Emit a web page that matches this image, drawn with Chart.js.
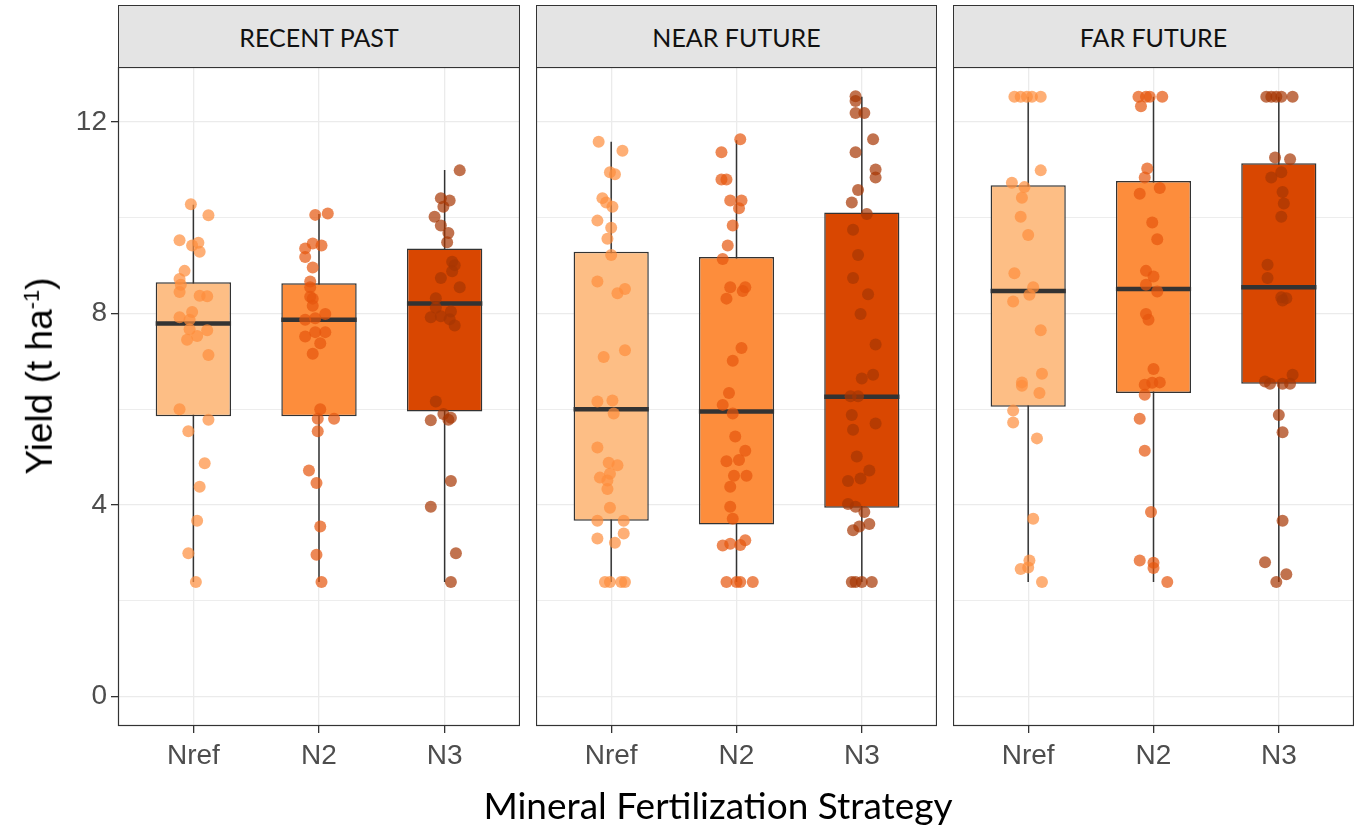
<!DOCTYPE html>
<html>
<head>
<title>Yield by mineral fertilization strategy</title>
<script src="https://cdn.jsdelivr.net/npm/chart.js"></script>
<style>
  body { margin: 0; background: #fff; }
  #fig { position: relative; width: 1360px; height: 830px; overflow: hidden; }
  canvas { position: absolute; top: 67px; }
  .strip { position: absolute; top: 5px; height: 63px; box-sizing: border-box; background: #e4e4e4;
           border: 1px solid #333; font: 25px Lato, sans-serif; color: #111;
           display: flex; align-items: center; justify-content: center; }
  #xtitle { position: absolute; left: 418px; width: 600px; top: 783px; text-align: center;
            font: 37px/1.2 Lato, sans-serif; color: #000; }
  #ytitle { position: absolute; left: 40px; top: 376px; transform: translate(-50%, -50%) rotate(-90deg);
            white-space: nowrap; font: 37px "Liberation Sans", Arial, sans-serif; color: #000; }
  #ytitle sup { font-size: 22px; }
</style>
</head>
<body>
<div id="fig">
  <div class="strip" style="left:118px; width:402px;">RECENT PAST</div>
  <div class="strip" style="left:536px; width:401px;">NEAR FUTURE</div>
  <div class="strip" style="left:953px; width:401px;">FAR FUTURE</div>
  <canvas id="p0" width="520" height="723" style="left:0px"></canvas>
  <canvas id="p1" width="401" height="723" style="left:536px"></canvas>
  <canvas id="p2" width="401" height="723" style="left:953px"></canvas>
  <div id="ytitle">Yield (t ha<sup>-1</sup>)</div>
  <div id="xtitle">Mineral Fertilization Strategy</div>
</div>
<script>
const periods = ['RECENT PAST', 'NEAR FUTURE', 'FAR FUTURE'];
const strategies = ['Nref', 'N2', 'N3'];
const yTicks = [0, 2, 4, 6, 8, 10, 12];
const yLabelled = [0, 4, 8, 12];

// box statistics per period, one value per strategy
const q1 = [[5.85, 5.85, 5.95], [3.67, 3.59, 3.94], [6.05, 6.34, 6.53]];
const median = [[7.79, 7.87, 8.21], [6.00, 5.95, 6.26], [8.47, 8.51, 8.55]];
const q3 = [[8.65, 8.63, 9.36], [9.29, 9.18, 10.11], [10.68, 10.77, 11.14]];
const whiskerLow = [[2.39, 2.39, 2.39], [2.39, 2.39, 2.39], [2.39, 2.39, 2.39]];
const whiskerHigh = [[10.27, 10.08, 11.0], [11.59, 11.62, 12.53], [12.53, 12.53, 12.53]];

// yearly yields as [jitter, yield]
const pastNref = [[-0.02,10.28],[0.12,10.05],[-0.11,9.53],[-0.01,9.42],[0.04,9.48],[0.05,9.29],[-0.07,8.89],[-0.11,8.72],[-0.10,8.60],[-0.11,8.45],[0.05,8.37],[0.11,8.36],[-0.01,8.03],[-0.11,7.92],[-0.03,7.87],[-0.03,7.67],[0.03,7.53],[0.11,7.65],[-0.05,7.45],[0.12,7.13],[-0.11,6.00],[0.12,5.78],[-0.04,5.54],[0.09,4.87],[0.05,4.38],[0.03,3.67],[-0.04,2.99],[0.02,2.39]];
const pastN2 = [[-0.03,10.06],[0.07,10.09],[-0.05,9.46],[-0.11,9.36],[0.02,9.42],[-0.11,9.18],[-0.05,8.96],[-0.07,8.67],[-0.07,8.55],[-0.07,8.35],[-0.05,8.31],[-0.05,8.16],[0.05,7.99],[-0.11,7.87],[-0.03,7.90],[-0.11,7.52],[-0.03,7.61],[0.05,7.61],[0.01,7.38],[-0.05,7.16],[0.01,6.00],[-0.01,5.80],[0.12,5.80],[-0.01,5.54],[-0.08,4.72],[-0.02,4.46],[0.01,3.55],[-0.02,2.96],[0.02,2.39]];
const pastN3 = [[0.12,10.99],[-0.03,10.41],[0.04,10.36],[-0.01,10.23],[-0.08,10.02],[-0.03,9.84],[0.03,9.68],[0.02,9.49],[0.06,9.08],[0.08,9.01],[0.06,8.88],[-0.03,8.74],[0.12,8.55],[-0.07,8.32],[-0.07,8.12],[0.05,8.04],[-0.11,7.92],[-0.03,7.94],[0.04,7.88],[0.08,7.75],[-0.07,6.16],[-0.01,5.90],[-0.11,5.77],[0.03,5.78],[0.05,5.82],[0.05,4.50],[-0.11,3.96],[0.09,2.99],[0.05,2.39]];
const nearNref = [[-0.10,11.59],[0.09,11.40],[-0.01,10.95],[0.03,10.91],[-0.07,10.41],[-0.04,10.32],[0.01,10.23],[-0.11,9.94],[0.00,9.79],[-0.03,9.56],[0.00,9.22],[-0.11,8.67],[0.05,8.42],[0.11,8.51],[-0.06,7.09],[0.11,7.23],[-0.11,6.16],[0.01,6.18],[0.02,5.91],[-0.11,5.20],[-0.02,4.88],[0.05,4.83],[-0.01,4.65],[-0.09,4.57],[-0.03,4.51],[-0.03,4.33],[-0.01,3.94],[-0.11,3.67],[0.10,3.67],[0.10,3.40],[-0.11,3.30],[0.03,3.21],[-0.05,2.39],[-0.01,2.39],[0.08,2.39],[0.11,2.39]];
const nearN2 = [[0.03,11.64],[-0.12,11.37],[-0.12,10.80],[-0.08,10.80],[-0.05,10.36],[0.04,10.36],[0.02,10.20],[-0.03,9.84],[-0.07,9.42],[-0.11,9.14],[-0.05,8.55],[0.07,8.55],[0.05,8.47],[-0.08,8.31],[0.04,7.28],[-0.03,7.01],[-0.06,6.34],[-0.11,6.09],[-0.03,5.91],[-0.01,5.43],[0.07,5.13],[-0.08,4.91],[0.02,4.94],[-0.02,4.61],[0.08,4.61],[-0.05,4.38],[-0.05,3.96],[-0.03,3.71],[-0.11,3.15],[-0.05,3.19],[0.03,3.16],[0.07,3.26],[-0.08,2.39],[0.00,2.39],[0.03,2.39],[0.13,2.39]];
const nearN3 = [[-0.05,12.54],[-0.05,12.44],[-0.05,12.19],[0.02,12.19],[0.09,11.64],[-0.05,11.37],[0.11,11.01],[0.11,10.84],[-0.03,10.58],[-0.08,10.32],[0.04,10.08],[-0.07,9.75],[-0.03,9.22],[-0.07,8.74],[0.05,8.40],[-0.01,7.99],[0.11,7.35],[0.09,6.72],[0.00,6.64],[-0.09,6.27],[-0.03,6.27],[-0.08,5.88],[0.11,5.70],[-0.07,5.57],[-0.04,5.01],[0.06,4.72],[-0.01,4.55],[-0.11,4.50],[-0.11,4.02],[-0.05,3.96],[0.02,3.85],[0.06,3.60],[-0.02,3.55],[-0.07,3.47],[-0.08,2.39],[-0.05,2.39],[0.00,2.39],[0.08,2.39]];
const farNref = [[-0.11,12.53],[-0.06,12.53],[-0.01,12.53],[0.03,12.53],[0.10,12.53],[0.10,10.99],[-0.13,10.73],[-0.03,10.64],[-0.05,10.42],[-0.06,10.02],[0.00,9.64],[-0.11,8.84],[0.04,8.55],[0.01,8.39],[-0.12,8.25],[0.10,7.65],[0.11,6.74],[-0.05,6.56],[-0.05,6.49],[0.09,6.34],[-0.12,5.97],[-0.12,5.72],[0.07,5.39],[0.04,3.71],[0.01,2.84],[-0.06,2.66],[0.00,2.69],[0.11,2.39]];
const farN2 = [[-0.12,12.53],[-0.06,12.53],[-0.03,12.53],[0.07,12.53],[-0.10,12.33],[-0.05,11.03],[-0.07,10.84],[0.05,10.62],[-0.11,10.50],[-0.01,9.90],[0.03,9.55],[-0.06,8.89],[0.00,8.77],[-0.06,8.60],[0.03,8.46],[-0.06,7.99],[-0.04,7.87],[0.00,6.84],[-0.07,6.51],[-0.01,6.55],[0.05,6.56],[-0.07,6.30],[-0.11,5.80],[-0.07,5.13],[-0.02,3.85],[-0.11,2.84],[0.00,2.79],[0.00,2.68],[0.11,2.39]];
const farN3 = [[-0.10,12.53],[-0.06,12.53],[-0.02,12.53],[0.02,12.53],[0.11,12.53],[-0.03,11.26],[0.09,11.22],[0.02,10.95],[-0.06,10.84],[0.03,10.54],[0.04,10.30],[0.02,10.02],[-0.09,9.02],[-0.09,8.74],[0.02,8.34],[0.06,8.32],[0.03,8.27],[0.11,6.72],[-0.11,6.58],[-0.07,6.53],[0.03,6.53],[0.09,6.53],[0.00,5.88],[0.03,5.52],[0.03,3.67],[-0.11,2.80],[0.06,2.55],[-0.02,2.39]];
const yields = [[pastNref, pastN2, pastN3], [nearNref, nearN2, nearN3], [farNref, farN2, farN3]];

const boxFill = ['#FDBE85', '#FD8D3C', '#D94701'];
const pointFill = ['rgba(253,141,60,0.7)', 'rgba(230,85,13,0.7)', 'rgba(166,54,3,0.7)'];
const BOX_HALF = 0.3;
const tickFont = { family: 'Liberation Sans', size: 28 };

const panelFrame = {
  id: 'panelFrame',
  afterDatasetsDraw(chart) {
    const a = chart.chartArea, ctx = chart.ctx;
    ctx.save();
    ctx.strokeStyle = '#333';
    ctx.lineWidth = 1.2;
    ctx.strokeRect(a.left + 0.5, a.top + 0.5, a.right - a.left - 1, a.bottom - a.top - 1);
    ctx.restore();
  }
};

function makePanel(p) {
  const showY = p === 0;
  const datasets = [];

  const whisk = [], med = [];
  strategies.forEach((s, i) => {
    whisk.push({ x: i + 1, y: whiskerLow[p][i] }, { x: i + 1, y: whiskerHigh[p][i] }, { x: i + 1, y: null });
    med.push({ x: i + 1 - BOX_HALF, y: median[p][i] }, { x: i + 1 + BOX_HALF, y: median[p][i] }, { x: i + 1, y: null });
  });
  datasets.push({ type: 'line', data: whisk, borderColor: '#333', borderWidth: 1.5, pointRadius: 0, spanGaps: false, order: 3 });
  datasets.push({
    type: 'bar',
    data: strategies.map((s, i) => ({ x: i + 1, y: [q1[p][i], q3[p][i]] })),
    backgroundColor: boxFill, borderColor: '#333', borderWidth: 1.5, borderSkipped: false,
    barPercentage: 0.6, categoryPercentage: 1, order: 2
  });
  datasets.push({ type: 'line', data: med, borderColor: '#333', borderWidth: 4.5, borderCapStyle: 'butt', pointRadius: 0, spanGaps: false, order: 1 });
  strategies.forEach((s, i) => {
    datasets.push({
      type: 'scatter',
      data: yields[p][i].map(d => ({ x: i + 1 + d[0], y: d[1] })),
      backgroundColor: pointFill[i], borderWidth: 0, pointRadius: 6, pointHoverRadius: 6, order: 0
    });
  });

  new Chart(document.getElementById('p' + p), {
    type: 'bar',
    data: { datasets },
    plugins: [panelFrame],
    options: {
      responsive: false,
      animation: false,
      layout: { padding: 0, autoPadding: false },
      plugins: { legend: { display: false }, tooltip: { enabled: false } },
      scales: {
        x: {
          type: 'linear', min: 0.4, max: 3.6, offset: false,
          afterBuildTicks: sc => { sc.ticks = strategies.map((s, i) => ({ value: i + 1 })); },
          afterFit: sc => { sc.height = 64; sc.paddingLeft = 0; sc.paddingRight = 0; },
          grid: { offset: false, color: '#EBEBEB', lineWidth: 1.3, tickColor: '#333', tickLength: 7, drawTicks: true },
          border: { display: false },
          ticks: { font: tickFont, color: '#4D4D4D', padding: 6, maxRotation: 0,
                   callback: v => strategies[Math.round(v) - 1] }
        },
        y: {
          type: 'linear', min: -0.62, max: 13.15,
          afterBuildTicks: sc => { sc.ticks = yTicks.map(v => ({ value: v })); },
          afterFit: sc => { sc.width = showY ? 118 : 0; sc.paddingTop = 0; sc.paddingBottom = 0; },
          grid: {
            color: '#EBEBEB',
            lineWidth: c => yLabelled.includes(c.tick.value) ? 1.3 : 0.9,
            tickColor: c => yLabelled.includes(c.tick.value) ? '#333' : 'rgba(0,0,0,0)',
            tickLength: 7, drawTicks: showY
          },
          border: { display: false },
          ticks: { display: showY, font: tickFont, color: '#4D4D4D', padding: 4,
                   callback: v => yLabelled.includes(v) ? String(v) : '' }
        }
      }
    }
  });
}

periods.forEach((name, p) => makePanel(p));
</script>
</body>
</html>
